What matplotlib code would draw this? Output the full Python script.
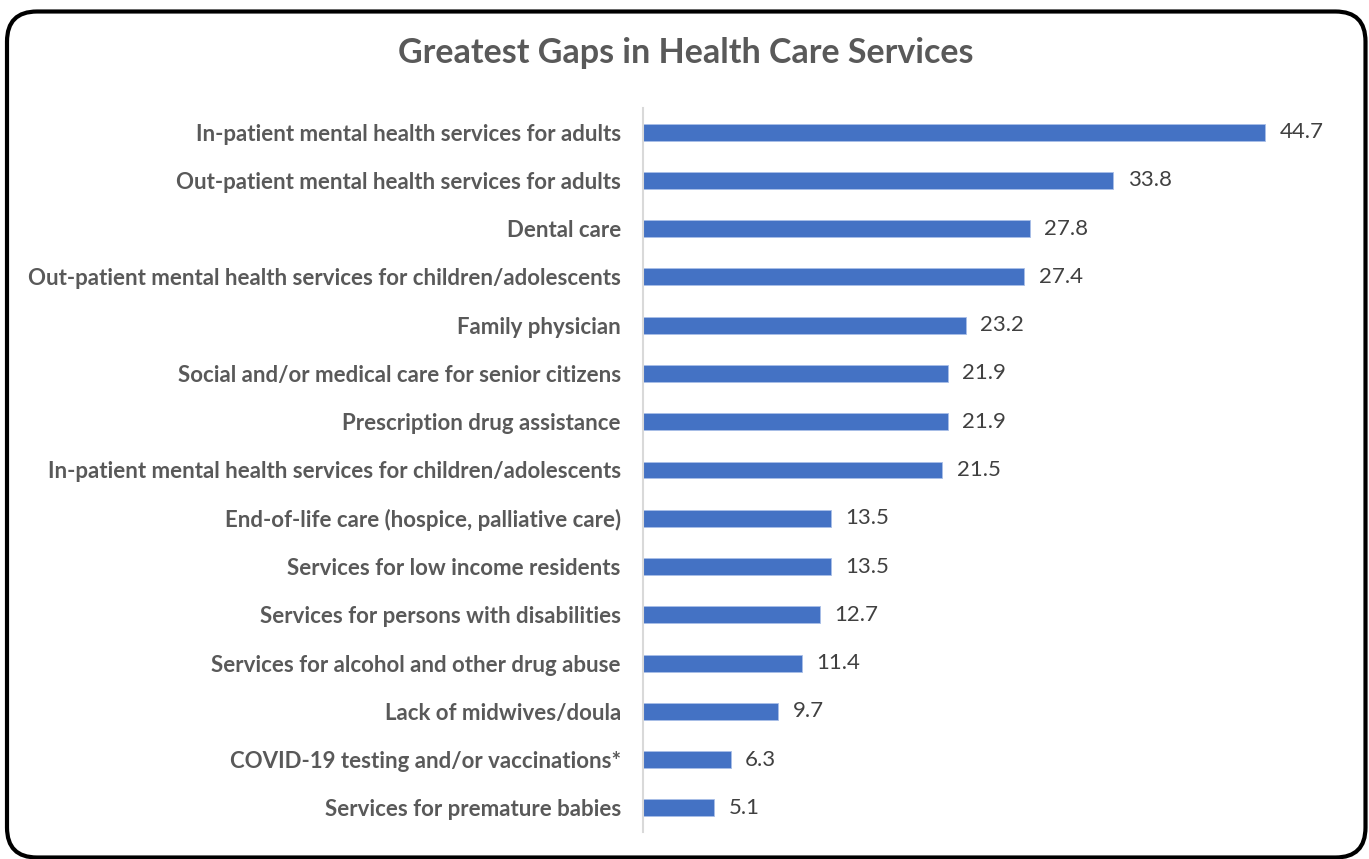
import matplotlib.pyplot as plt
from matplotlib.patches import FancyBboxPatch
from matplotlib.transforms import IdentityTransform

# datos (de arriba hacia abajo)
servicios = [
    "In-patient mental health services for adults",
    "Out-patient mental health services for adults",
    "Dental care",
    "Out-patient mental health services for children/adolescents",
    "Family physician",
    "Social and/or medical care for senior citizens",
    "Prescription drug assistance",
    "In-patient mental health services for children/adolescents",
    "End-of-life care (hospice, palliative care)",
    "Services for low income residents",
    "Services for persons with disabilities",
    "Services for alcohol and other drug abuse",
    "Lack of midwives/doula",
    "COVID-19 testing and/or vaccinations*",
    "Services for premature babies",
]
porcentajes = [44.7, 33.8, 27.8, 27.4, 23.2, 21.9, 21.9, 21.5, 13.5, 13.5, 12.7, 11.4, 9.7, 6.3, 5.1]

W, H = 1369, 859
fig = plt.figure(figsize=(W / 100, H / 100), dpi=100)
plt.rcParams['font.family'] = ['Lato', 'DejaVu Sans']

# marco redondeado
marco = FancyBboxPatch((7, 1.5), 1358.5, 846, boxstyle="round,pad=0,rounding_size=30",
                       transform=IdentityTransform(), fill=False, edgecolor='black',
                       linewidth=3, zorder=10)
fig.patches.append(marco)

ax = fig.add_axes([643 / W, 27 / H, 695.5 / W, 724 / H])
y = list(range(len(servicios)))
ax.barh(y, porcentajes, height=0.35, color='#4472C4', edgecolor='#A9BFE8', linewidth=0.6)
ax.set_ylim(len(servicios) - 0.5, -0.5)
ax.set_xlim(0, 50)

for yi, v in zip(y, porcentajes):
    ax.text(v + 1.05, yi, f"{v:.1f}", va='center', ha='left', fontsize=16, color='#404040')

ax.set_yticks(y)
ax.set_yticklabels(servicios, fontsize=16, fontweight='bold', color='#595959')
ax.tick_params(axis='y', length=0, pad=16)
ax.set_xticks([])
for s in ['top', 'right', 'bottom']:
    ax.spines[s].set_visible(False)
ax.spines['left'].set_color('#D9D9D9')
ax.spines['left'].set_linewidth(1.5)

fig.text(686 / W, 1 - 53 / H, "Greatest Gaps in Health Care Services", ha='center', va='center',
         fontsize=24.5, fontweight='bold', color='#595959')

fig.savefig('out.png', dpi=100)
